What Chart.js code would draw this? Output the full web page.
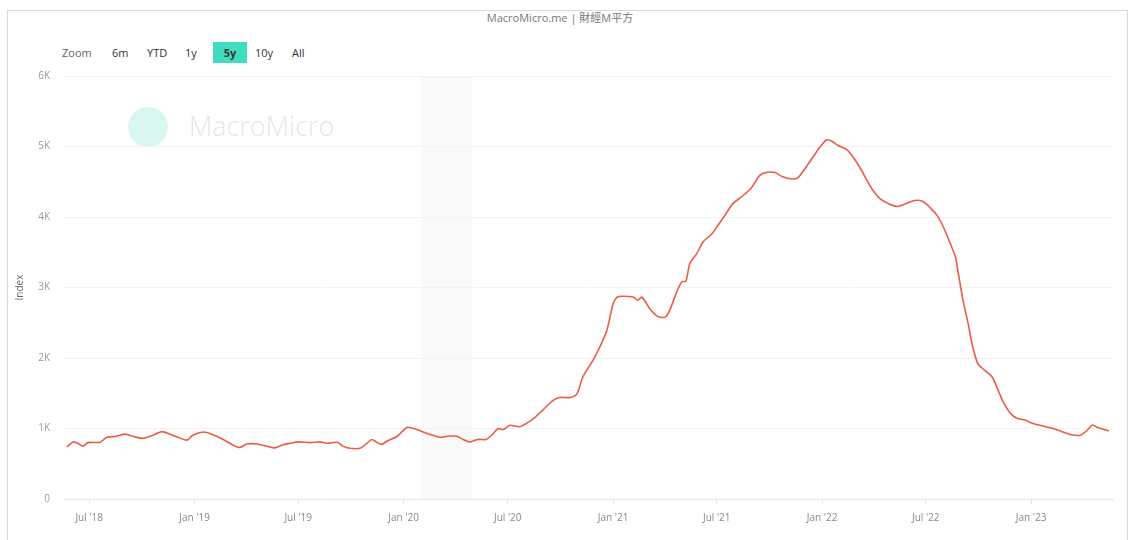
<!DOCTYPE html>
<html>
<head>
<meta charset="utf-8">
<script src="https://cdn.jsdelivr.net/npm/chart.js@4.4.1/dist/chart.umd.min.js"></script>
<style>
    html, body { margin: 0; padding: 0; background: #fff; }
    body { width: 1132px; height: 540px; position: relative; overflow: hidden; font-family: "Open Sans", "Noto Sans", sans-serif; }
    .frame { position: absolute; left: 7px; top: 10px; width: 1119px; height: 560px; border: 1px solid #d9d9d9; }
    .title { position: absolute; top: 10px; left: 0; width: 1120px; text-align: center; font-size: 11px; color: #777;
        font-family: "Open Sans", "Noto Sans CJK TC", sans-serif; line-height: 16px; }
    .zoom { position: absolute; top: 42px; left: 62px; font-size: 11px; color: #333; height: 21px; }
    .zoom span { position: absolute; top: 0; line-height: 21px; white-space: nowrap; }
    .zoom .lbl { color: #666; }
    .zoom .on { background: #40dcc0; font-weight: bold; text-align: center; width: 34px; }
    #wrap { position: absolute; left: 0; top: 0; width: 1132px; height: 540px; }
</style>
</head>
<body>
<div class="frame"></div>
<div class="title">MacroMicro.me | 財經M平方</div>
<div class="zoom">
    <span class="lbl" style="left:0">Zoom</span>
    <span style="left:50px">6m</span>
    <span style="left:85px">YTD</span>
    <span style="left:123px">1y</span>
    <span class="on" style="left:151px">5y</span>
    <span style="left:193px">10y</span>
    <span style="left:230px">All</span>
</div>
<div id="wrap"><canvas id="chart"></canvas></div>
<script>
const dates = [
    '2018-05-23', '2018-06-03', '2018-06-11', '2018-06-20', '2018-06-29', '2018-07-20', '2018-08-01', '2018-08-18',
    '2018-09-01', '2018-09-15', '2018-10-03', '2018-10-20', '2018-11-05', '2018-11-19', '2018-12-03', '2018-12-19',
    '2018-12-29', '2019-01-16', '2019-01-31', '2019-02-20', '2019-03-09', '2019-03-21', '2019-04-02', '2019-04-20',
    '2019-05-07', '2019-05-21', '2019-06-03', '2019-06-17', '2019-07-01', '2019-07-22', '2019-08-08', '2019-08-20',
    '2019-09-07', '2019-09-17', '2019-09-29', '2019-10-17', '2019-10-29', '2019-11-07', '2019-11-16', '2019-11-24',
    '2019-12-05', '2019-12-21', '2020-01-07', '2020-01-24', '2020-02-11', '2020-03-05', '2020-03-17', '2020-04-03',
    '2020-04-14', '2020-04-26', '2020-05-10', '2020-05-24', '2020-06-05', '2020-06-14', '2020-06-23', '2020-07-05',
    '2020-07-22', '2020-08-04', '2020-08-17', '2020-08-31', '2020-09-18', '2020-09-30', '2020-10-18', '2020-10-30',
    '2020-11-09', '2020-11-27', '2020-12-09', '2020-12-21', '2021-01-01', '2021-01-08', '2021-01-18', '2021-02-05',
    '2021-02-13', '2021-02-20', '2021-03-06', '2021-03-20', '2021-04-02', '2021-04-10', '2021-04-22', '2021-05-01',
    '2021-05-08', '2021-05-15', '2021-05-27', '2021-06-07', '2021-06-23', '2021-07-03', '2021-07-15', '2021-07-29',
    '2021-08-16', '2021-08-31', '2021-09-14', '2021-09-27', '2021-10-11', '2021-10-23', '2021-11-09', '2021-11-20',
    '2021-12-02', '2021-12-16', '2021-12-28', '2022-01-09', '2022-01-18', '2022-01-29', '2022-02-13', '2022-02-24',
    '2022-03-11', '2022-03-22', '2022-03-31', '2022-04-12', '2022-04-29', '2022-05-13', '2022-05-29', '2022-06-12',
    '2022-06-26', '2022-07-09', '2022-07-21', '2022-08-01', '2022-08-13', '2022-08-22', '2022-08-27', '2022-09-04',
    '2022-09-13', '2022-09-21', '2022-09-30', '2022-10-12', '2022-10-25', '2022-11-02', '2022-11-13', '2022-11-25',
    '2022-12-07', '2022-12-21', '2023-01-04', '2023-01-22', '2023-02-08', '2023-02-24', '2023-03-10', '2023-03-28',
    '2023-04-09', '2023-04-18', '2023-04-27', '2023-05-07', '2023-05-17'
];
const values = [
    740, 810, 790, 750, 800, 805, 875, 890,
    920, 890, 860, 905, 955, 920, 875, 835,
    905, 950, 920, 845, 765, 730, 780, 780,
    750, 725, 765, 790, 810, 800, 810, 790,
    805, 750, 720, 720, 790, 845, 800, 775,
    830, 890, 1015, 985, 930, 875, 890, 890,
    845, 810, 845, 845, 920, 1000, 985, 1045,
    1025, 1080, 1155, 1260, 1400, 1440, 1440, 1495,
    1730, 1970, 2160, 2390, 2770, 2865, 2875, 2865,
    2820, 2865, 2700, 2590, 2580, 2680, 2935, 3080,
    3090, 3340, 3480, 3645, 3765, 3880, 4020, 4190,
    4305, 4420, 4590, 4635, 4630, 4575, 4540, 4560,
    4685, 4850, 4990, 5095, 5075, 5015, 4955, 4850,
    4660, 4495, 4375, 4260, 4180, 4150, 4195, 4235,
    4220, 4130, 4020, 3855, 3620, 3430, 3195, 2820,
    2490, 2160, 1920, 1825, 1730, 1590, 1380, 1225,
    1145, 1120, 1070, 1035, 1000, 955, 915, 905,
    975, 1050, 1015, 990, 965
];
const xTickDates = ['2018-07-01', '2019-01-01', '2019-07-01', '2020-01-01', '2020-07-01',
    '2021-01-01', '2021-07-01', '2022-01-01', '2022-07-01', '2023-01-01'];
const xTickLabels = ["Jul '18", "Jan '19", "Jul '19", "Jan '20", "Jul '20",
    "Jan '21", "Jul '21", "Jan '22", "Jul '22", "Jan '23"];
const yTicks = [0, 1000, 2000, 3000, 4000, 5000, 6000];
const yTickLabels = ['0', '1K', '2K', '3K', '4K', '5K', '6K'];
const xRange = ['2018-05-18', '2023-05-24'];
const recession = ['2020-02-01', '2020-04-30'];

const toMs = s => Date.parse(s + 'T00:00:00Z');

// recession band + MacroMicro watermark, under the grid
const backdrop = {
    id: 'backdrop',
    beforeDraw(chart) {
        const { ctx, chartArea, scales } = chart;
        const x0 = scales.x.getPixelForValue(toMs(recession[0]));
        const x1 = scales.x.getPixelForValue(toMs(recession[1]));
        ctx.save();
        ctx.fillStyle = '#f9f9f9';
        ctx.fillRect(x0, chartArea.top, x1 - x0, chartArea.bottom - chartArea.top);

        ctx.fillStyle = '#d9f6f0';
        ctx.beginPath();
        ctx.arc(148, 127, 20, 0, Math.PI * 2);
        ctx.fill();
        ctx.fillStyle = '#e6e6e6';
        ctx.font = '300 27px "Open Sans", sans-serif';
        ctx.textBaseline = 'middle';
        ctx.fillText('MacroMicro', 189, 128);
        ctx.restore();
    }
};

const ctx = document.getElementById('chart').getContext('2d');
const chart = new Chart(ctx, {
    type: 'line',
    data: {
        datasets: [{
            label: 'Index',
            data: dates.map((d, i) => ({ x: toMs(d), y: values[i] })),
            borderColor: '#ec5b46',
            borderWidth: 1.6,
            pointRadius: 0,
            tension: 0.25,
            fill: false
        }]
    },
    options: {
        responsive: true,
        maintainAspectRatio: false,
        animation: false,
        layout: {
            padding: { left: 8, right: 19, top: 76, bottom: 0 }
        },
        scales: {
            x: {
                type: 'linear',
                min: toMs(xRange[0]),
                max: toMs(xRange[1]),
                afterBuildTicks: scale => {
                    scale.ticks = xTickDates.map(d => ({ value: toMs(d) }));
                },
                afterFit: scale => { scale.height = 41; },
                grid: {
                    drawOnChartArea: false,
                    drawTicks: true,
                    tickLength: 5,
                    color: '#e6e6e6'
                },
                border: { display: true, color: '#e6e6e6' },
                ticks: {
                    autoSkip: false,
                    maxRotation: 0,
                    padding: 8,
                    color: '#888',
                    font: { size: 10, family: '"Open Sans", sans-serif' },
                    callback: (value, index) => xTickLabels[index]
                }
            },
            y: {
                min: 0,
                max: 6000,
                afterBuildTicks: scale => {
                    scale.ticks = yTicks.map(v => ({ value: v }));
                },
                afterFit: scale => { scale.width = 56; },
                title: {
                    display: true,
                    text: 'Index',
                    color: '#666',
                    font: { size: 10, family: '"Open Sans", sans-serif' },
                    padding: { top: 6, bottom: 0 }
                },
                grid: {
                    drawTicks: false,
                    color: ctx => ctx.tick && ctx.tick.value === 0 ? '#e6e6e6' : '#f2f2f2'
                },
                border: { display: false },
                ticks: {
                    padding: 14,
                    color: '#999',
                    font: { size: 10, family: '"Open Sans", sans-serif' },
                    callback: (value, index) => yTickLabels[index]
                }
            }
        },
        plugins: {
            legend: { display: false },
            tooltip: { enabled: false }
        }
    },
    plugins: [backdrop]
});
</script>
</body>
</html>
